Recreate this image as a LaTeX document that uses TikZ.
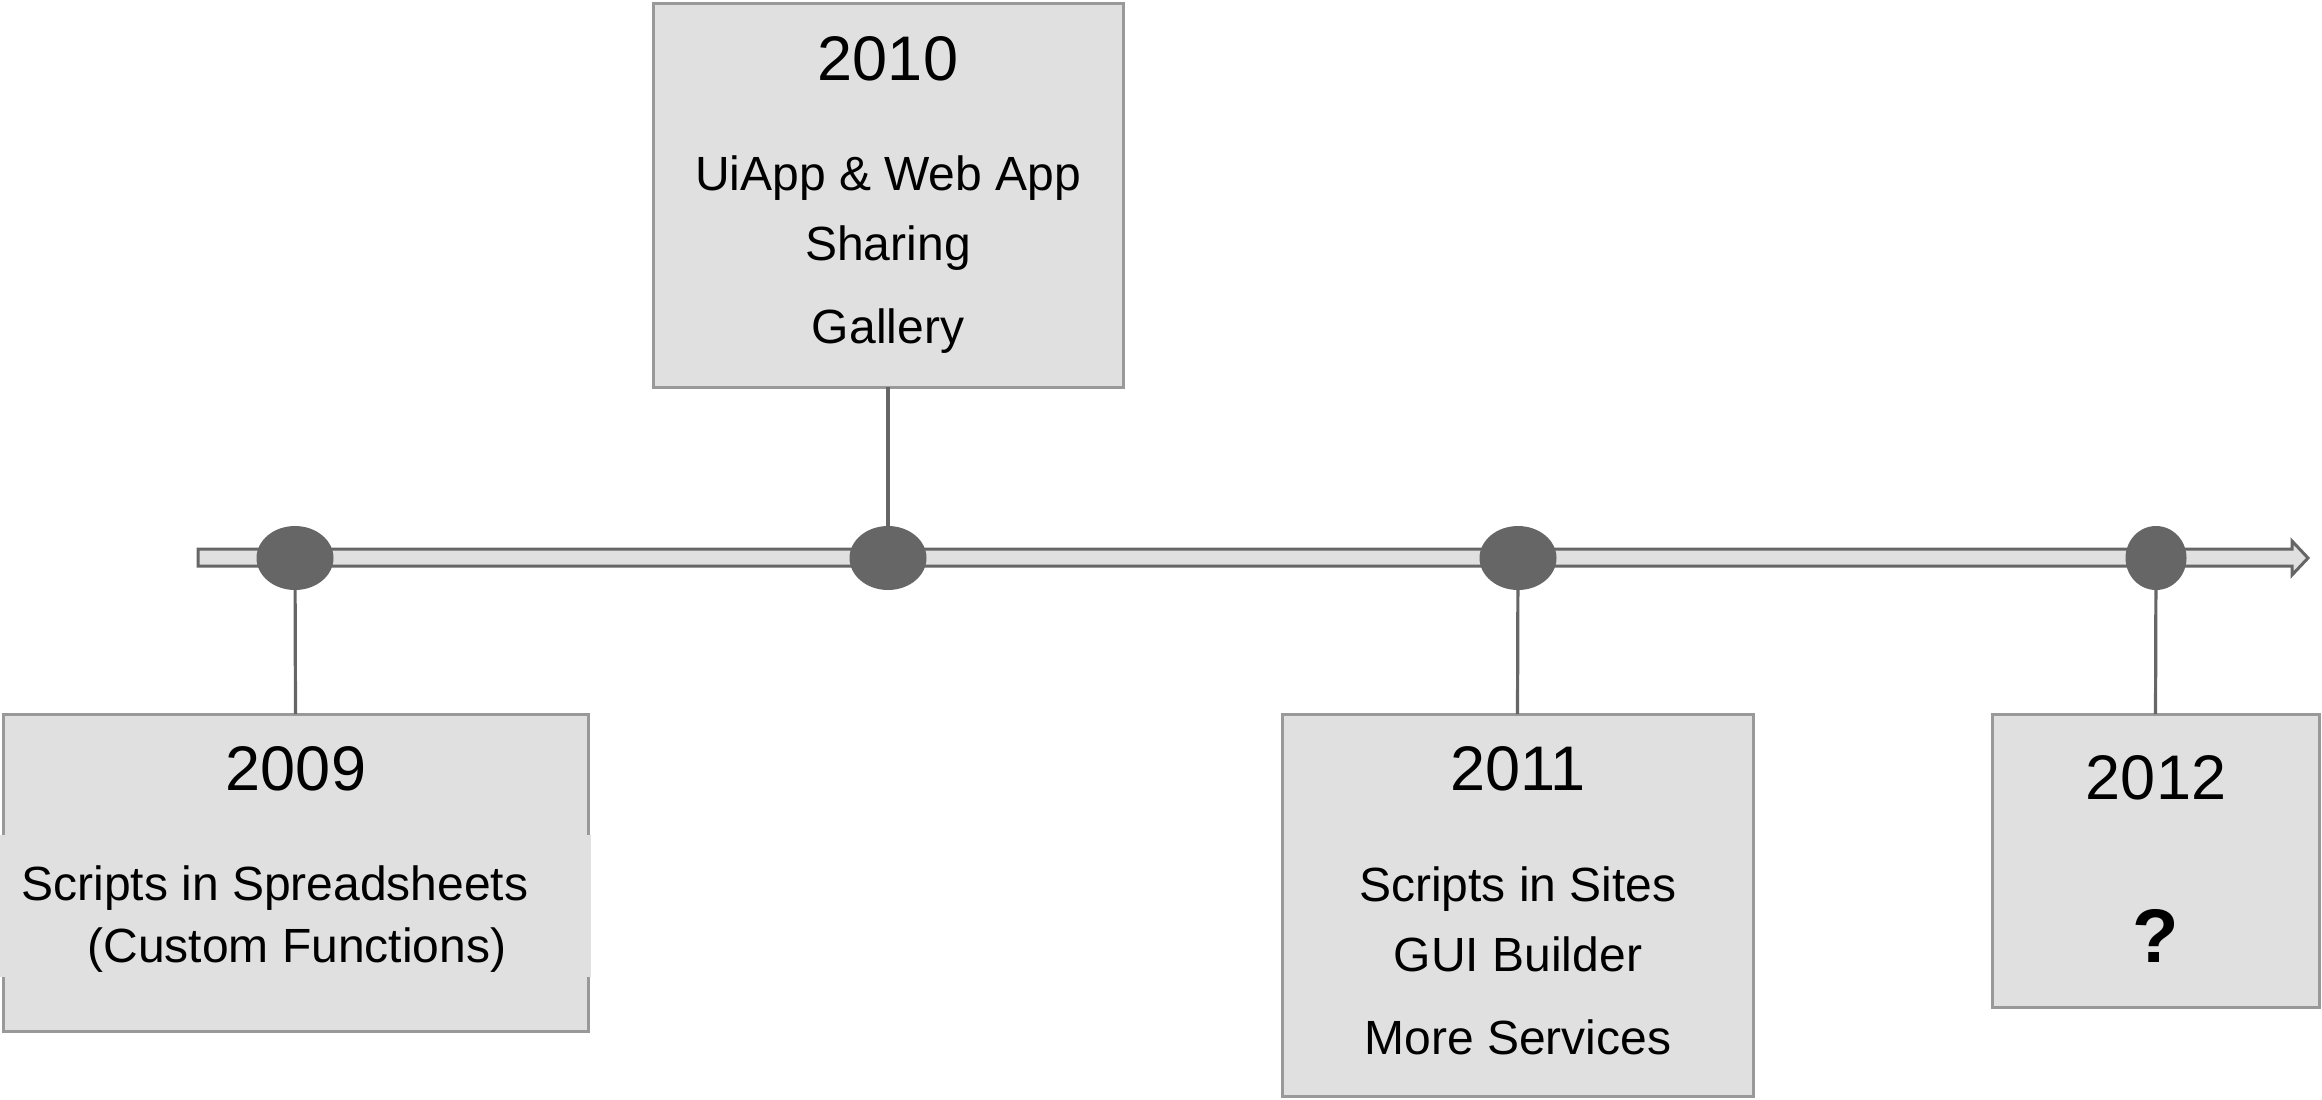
\documentclass[tikz,border=0pt]{standalone}
\usepackage{fontspec}
\setmainfont{Liberation Sans}
\usetikzlibrary{shapes.geometric}

\definecolor{boxfill}{HTML}{E0E0E0}
\definecolor{boxline}{HTML}{999999}
\definecolor{dotgray}{HTML}{666666}

\begin{document}
\begin{tikzpicture}[% styles used in image code
    x = 0.5pt, y = -0.5pt,
year/.style = {anchor=base, inner sep=0pt, font=\fontsize{31.5}{36}\selectfont},
item/.style = {anchor=base, inner sep=0pt, font=\fontsize{24}{28}\selectfont},
dot/.style  = {ellipse, fill=dotgray,
               minimum width=38.5pt, minimum height=32pt,
               inner sep=0pt, outer sep=0pt,
               node contents={}},
link/.style = {draw=dotgray, line width=1.6pt},
box/.style args = {#1/#2}{draw=boxline, fill=boxfill, line width=1.5pt,
                          minimum width=#1, minimum height=#2,
                          inner sep=0pt, outer sep=0pt,
                          node contents={}}
                    ]
    \useasboundingbox (0,0) rectangle (2322,1099);

    % time line
    \draw[draw=dotgray, fill=boxfill, line width=1.5pt]
        (198,549) -- (2292,549) -- (2292,541) -- (2308,558)
        -- (2292,575) -- (2292,566) -- (198,566) -- cycle;

    % events on the line
    \node (d2009) at ( 295,558) [dot];
    \node (d2010) at ( 888,558) [dot];
    \node (d2011) at (1518,558) [dot];
    \node (d2012) at (2156,558) [dot, minimum width=30.5pt];

    % boxes
    \node (box2009) at ( 295.5, 872.5) [box=292.5pt/158.5pt];
    \node (box2010) at ( 888  , 195  ) [box=235pt/192pt];
    \node (box2011) at (1517.5, 905  ) [box=235.5pt/191pt];
    \node (box2012) at (2155.5, 860.5) [box=163.5pt/146.5pt];
    \fill[boxfill] (0,835) rectangle (591,977);

    \draw[link] (d2009) -- (box2009.north);
    \draw[link] (d2010) -- (box2010.south);
    \draw[link] (d2011) -- (box2011.north);
    \draw[link] (d2012) -- (box2012.north);

    % 2009
    \node[year] (y2009) at (296,790) {2009};
    \node[item, anchor=base west] (s2009) at (21,900) {Scripts in Spreadsheets};
    \node[item, anchor=base west] (c2009) at (87,962) {(Custom Functions)};

    % 2010
    \node[year] (y2010) at (888,80) {2010};
    \node[item] (u2010) at (888,190) {UiApp \& Web App};
    \node[item] (s2010) at (888,260) {Sharing};
    \node[item] (g2010) at (888,343) {Gallery};

    % 2011
    \node[year] (y2011) at (1518,790) {2011};
    \node[item] (s2011) at (1518,901) {Scripts in Sites};
    \node[item] (g2011) at (1518,971) {GUI Builder};
    \node[item] (m2011) at (1518,1054) {More Services};

    % 2012
    \node[year] (y2012) at (2156,799) {2012};
    \node[year, font=\fontsize{38}{44}\selectfont\bfseries] (q2012) at (2156,962) {?};
\end{tikzpicture}
\end{document}
